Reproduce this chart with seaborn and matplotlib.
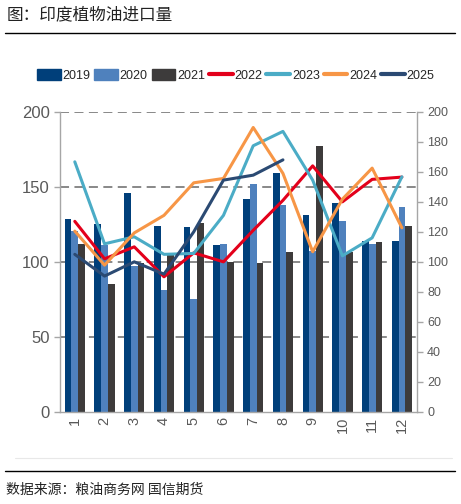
import pandas as pd
import numpy as np
import matplotlib
matplotlib.use('Agg')
import matplotlib.pyplot as plt
from matplotlib.lines import Line2D
from matplotlib.ticker import FixedLocator
import seaborn as sns

# Datos (mes 1-12)
months = [str(m) for m in range(1, 13)]
y2019 = [128.6, 125, 145.6, 124.2, 123, 111.4, 142, 159.4, 131, 139, 113.6, 113.8]
y2020 = [120.5, 111, 97, 81, 75.3, 112, 151.6, 138, 107, 127.3, 111.6, 136.5]
y2021 = [111.6, 85.3, 99, 105, 126, 100, 99.4, 106.7, 177, 106.5, 113.3, 123.6]
y2022 = [127, 102, 110, 90, 106, 100, 121, 141, 164, 140, 155, 156.5]
y2023 = [166.7, 112, 116.7, 105, 105.6, 131, 177.4, 187, 154.5, 104, 116, 156.7]
y2024 = [120.5, 97.8, 119.3, 131, 152.7, 155.6, 189.6, 159, 106.7, 141.8, 162.5, 122.7]
y2025 = [105, 90.5, 100, 91.8, 120, 154.5, 157.8, 168]

bar_years = ['2019', '2020', '2021']
line_years = ['2022', '2023', '2024', '2025']
colores = {'2019': '#003F7A', '2020': '#4F81BD', '2021': '#3D3B3B',
           '2022': '#E3001B', '2023': '#4BACC6', '2024': '#F79646', '2025': '#2B4A73'}

df_bar = pd.DataFrame({'Mes': months * 3,
                       'Año': ['2019'] * 12 + ['2020'] * 12 + ['2021'] * 12,
                       'Valor': y2019 + y2020 + y2021})

filas = []
for anio, serie in zip(line_years, [y2022, y2023, y2024, y2025]):
    for i, v in enumerate(serie):
        filas.append({'pos': i, 'Año': anio, 'Valor': v})
df_line = pd.DataFrame(filas)

sns.set_style('white')
num_font = ['Liberation Sans', 'DejaVu Sans']
cjk_font = ['Noto Sans CJK SC', 'DejaVu Sans']
plt.rcParams['font.family'] = num_font

fig = plt.figure(figsize=(4.61, 5.04), dpi=100)
ax = fig.add_axes([0.130, 0.183, 0.774, 0.595])

# Barras agrupadas
sns.barplot(data=df_bar, x='Mes', y='Valor', hue='Año', palette=colores,
            width=0.68, ax=ax, legend=False, linewidth=0, saturation=1)
ax.set_xlim(-0.5, 11.5)
ax.set_ylim(0, 200)
ax.set_yticks([0, 50, 100, 150, 200])
ax.set_xlabel('')
ax.set_ylabel('')

# Rejilla discontinua
for yv in [50, 100, 150, 200]:
    ax.axhline(yv, color='#7F7F7F', lw=1.3, linestyle=(0, (5, 3)), zorder=0.5)

gris = '#A6A6A6'
for s in ['left', 'bottom', 'right']:
    ax.spines[s].set_color(gris)
    ax.spines[s].set_linewidth(1)
ax.spines['top'].set_visible(False)

ax.tick_params(axis='y', labelsize=12, colors='#595959', length=4, width=1, color=gris)
ax.tick_params(axis='x', which='major', labelsize=10.5, labelcolor='#595959', length=0,
               rotation=90)
ax.xaxis.set_minor_locator(FixedLocator(np.arange(-0.5, 12, 1)))
ax.tick_params(axis='x', which='minor', length=4, width=1, color=gris)

# Segundo eje para las líneas
ax2 = ax.twinx()
sns.lineplot(data=df_line, x='pos', y='Valor', hue='Año', palette=colores,
             lw=2.2, ax=ax2, legend=False)
ax2.set_ylim(0, 200)
ax2.set_xlim(-0.5, 11.5)
ax2.set_yticks(np.arange(0, 201, 20))
ax2.set_ylabel('')
ax2.set_xlabel('')
for s in ['left', 'bottom', 'right', 'top']:
    ax2.spines[s].set_visible(False)
ax2.tick_params(axis='y', labelsize=9, colors='#595959', length=4, width=1, color=gris)

# Leyenda
handles = []
for anio in bar_years:
    handles.append(plt.Rectangle((0, 0), 1, 1, color=colores[anio], label=anio))
for anio in line_years:
    handles.append(Line2D([0], [0], color=colores[anio], lw=3, label=anio))
fig.legend(handles=handles, loc='center', bbox_to_anchor=(0.511, 0.851), ncol=7,
           frameon=False, fontsize=9, handlelength=1.9, handleheight=1.0,
           handletextpad=0.15, columnspacing=0.3, borderaxespad=0)

# Título, líneas y fuente
fig.text(0.015, 1 - 15 / 504, '图：印度植物油进口量', fontsize=12, family=cjk_font,
         va='center', ha='left', color='#222222')
fig.add_artist(Line2D([5 / 461, 455 / 461], [1 - 33 / 504] * 2, color='black', lw=1))
fig.add_artist(Line2D([15 / 461, 452 / 461], [1 - 458 / 504] * 2, color='#E8E8E8', lw=0.8))
fig.add_artist(Line2D([5 / 461, 455 / 461], [1 - 471 / 504] * 2, color='black', lw=1))
fig.text(0.012, 1 - 490 / 504, '数据来源：粮油商务网 国信期货', fontsize=10,
         family=cjk_font, va='center', ha='left', color='#222222')

fig.savefig('out.png', dpi=100)
